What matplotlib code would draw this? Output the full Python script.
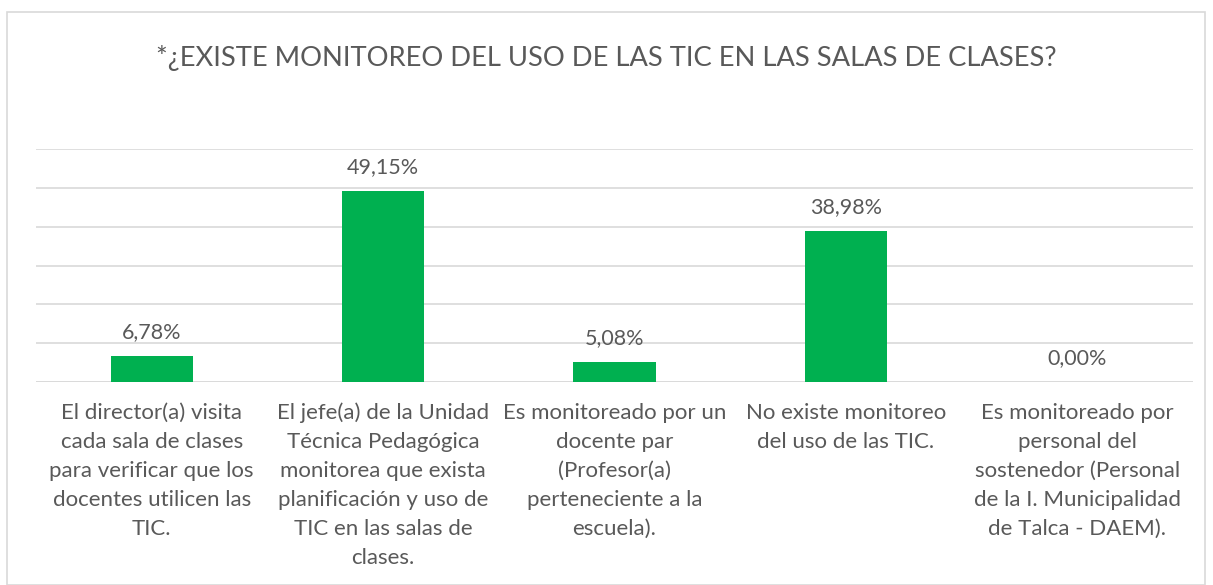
import matplotlib
matplotlib.use("Agg")
import matplotlib.pyplot as plt
from matplotlib.patches import Rectangle

categories = [
    "El director(a) visita\ncada sala de clases\npara verificar que los\ndocentes utilicen las\nTIC.",
    "El jefe(a) de la Unidad\nTécnica Pedagógica\nmonitorea que exista\nplanificación y uso de\nTIC en las salas de\nclases.",
    "Es monitoreado por un\ndocente par\n(Profesor(a)\nperteneciente a la\nescuela).",
    "No existe monitoreo\ndel uso de las TIC.",
    "Es monitoreado por\npersonal del\nsostenedor (Personal\nde la I. Municipalidad\nde Talca - DAEM).",
]
values = [6.78, 49.15, 5.08, 38.98, 0.00]
value_labels = ["6,78%", "49,15%", "5,08%", "38,98%", "0,00%"]
title = "*¿EXISTE MONITOREO DEL USO DE LAS TIC EN LAS SALAS DE CLASES?"

plt.rcParams['font.family'] = ['Lato', 'DejaVu Sans']
txt = '#595959'
W, H = 1213, 585
fig = plt.figure(figsize=(W/100, H/100), dpi=100)

fig.patches.append(Rectangle((7/W, 0), (1205-7)/W, (H-12)/H, transform=fig.transFigure,
                             fill=False, edgecolor='#d9d9d9', linewidth=1.2))

left, right, bottom_px, top_px = 36, 1193, 382, 149
ax = fig.add_axes([left/W, 1-bottom_px/H, (right-left)/W, (bottom_px-top_px)/H])
x = range(len(values))
ax.bar(x, values, width=0.355, color='#00b050', zorder=3)
ax.set_xlim(-0.5, len(values)-0.5)
ax.set_ylim(0, 60)
ax.set_yticks(range(0, 61, 10))
ax.yaxis.grid(True, color='#d9d9d9', linewidth=1.2)
ax.tick_params(left=False, labelleft=False, bottom=False, labelbottom=False)
for s in ax.spines.values():
    s.set_visible(False)
ax.axhline(0, color='#d9d9d9', linewidth=1.2, zorder=2)

for i, (v, lab) in enumerate(zip(values, value_labels)):
    ax.annotate(lab, (i, v), xytext=(0, 10), textcoords='offset points',
                ha='center', va='bottom', fontsize=15.5, color=txt)
    ax.annotate(categories[i], (i, 0), xytext=(0, -15), textcoords='offset points',
                ha='center', va='top', fontsize=16, color=txt, linespacing=1.56)

fig.text(0.5, 1-58/H, title, ha='center', va='center', fontsize=19.7, color=txt)

fig.savefig("out.png", dpi=100)
